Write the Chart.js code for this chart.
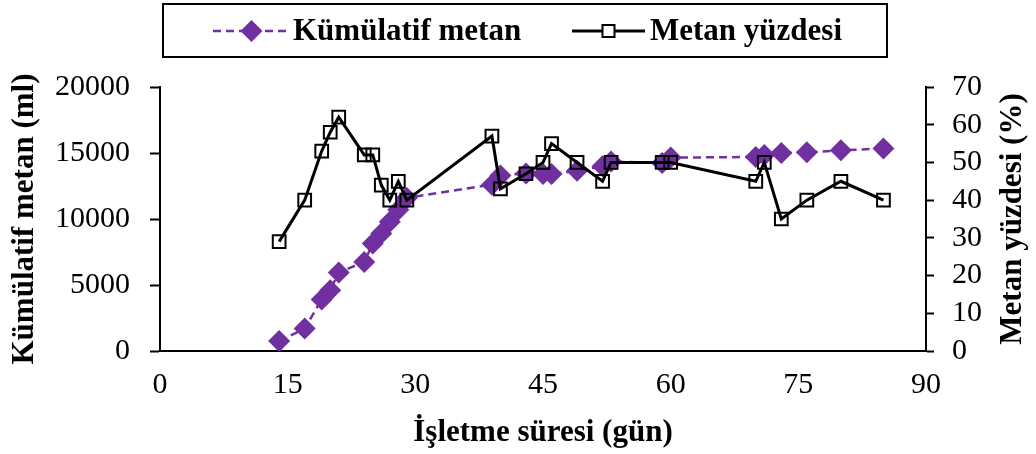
<!DOCTYPE html>
<html>
<head>
<meta charset="utf-8">
<script src="https://cdn.jsdelivr.net/npm/chart.js@4.4.0/dist/chart.umd.min.js"></script>
<style>
html,body{margin:0;padding:0;background:#fff;}
#wrap{width:1036px;height:454px;position:relative;}
</style>
</head>
<body>
<div id="wrap"><canvas id="c" width="1036" height="454"></canvas></div>
<script>
// ---- data ----
const days = [14,17,19,20,21,24,25,26,27,28,29,39,40,43,45,46,49,52,53,59,60,70,71,73,76,80,85];
const cumulativeMethane = [750,1700,3900,4600,5950,6750,8150,8900,9800,10700,11600,12600,13300,13450,13400,13400,13650,14000,14350,14250,14650,14700,14850,15000,15050,15200,15350];
const methanePercent = [29,40,53,58,62,52,52,44,40,45,40,57,43,47,50,55,50,45,50,50,50,45,50,35,40,45,40];
const seriesNames = ['Kümülatif metan', 'Metan yüzdesi'];
const xTitle = 'İşletme süresi (gün)';
const yLeftTitle = 'Kümülatif metan (ml)';
const yRightTitle = 'Metan yüzdesi (%)';

const FONT = '"Liberation Serif", "Times New Roman", serif';
const PURPLE = '#7030A0';
const TICK_SIZE = 30;
const TITLE_SIZE = 31;

const legendPlugin = {
  id: 'boxLegend',
  afterDraw(chart) {
    const ctx = chart.ctx;
    const ds = chart.data.datasets;
    ctx.save();
    // right axis title, reading bottom-to-top
    const ra = chart.scales.y1;
    ctx.save();
    ctx.translate(1013, (ra.top + ra.bottom) / 2);
    ctx.rotate(-Math.PI / 2);
    ctx.fillStyle = '#000';
    ctx.font = 'bold ' + TITLE_SIZE + 'px ' + FONT;
    ctx.textAlign = 'center';
    ctx.textBaseline = 'middle';
    ctx.fillText(yRightTitle, 0, 0);
    ctx.restore();

    ctx.strokeStyle = '#000';
    ctx.lineWidth = 2;
    ctx.strokeRect(163, 4, 724, 53);
    const y = 31;
    const items = [
      {x0: 213, x1: 290, tx: 293},
      {x0: 572, x1: 645, tx: 650}
    ];
    items.forEach((it, i) => {
      const d = ds[i];
      ctx.save();
      ctx.strokeStyle = d.borderColor;
      ctx.lineWidth = d.borderWidth;
      ctx.setLineDash(d.borderDash || []);
      ctx.beginPath();
      ctx.moveTo(it.x0, y); ctx.lineTo(it.x1, y);
      ctx.stroke();
      ctx.restore();
      const cx = (it.x0 + it.x1) / 2;
      ctx.save();
      ctx.fillStyle = d.pointStyle === 'rectRot' ? d.pointBackgroundColor : '#fff';
      ctx.strokeStyle = d.pointBorderColor;
      ctx.lineWidth = d.pointBorderWidth;
      if (d.pointStyle === 'rectRot') {
        const r = 11;
        ctx.beginPath();
        ctx.moveTo(cx, y - r); ctx.lineTo(cx + r, y); ctx.lineTo(cx, y + r); ctx.lineTo(cx - r, y); ctx.closePath();
        ctx.fill();
      } else {
        const s = 12;
        ctx.fillRect(cx - s/2, y - s/2, s, s);
        ctx.strokeRect(cx - s/2, y - s/2, s, s);
      }
      ctx.restore();
      ctx.fillStyle = '#000';
      ctx.font = 'bold ' + TITLE_SIZE + 'px ' + FONT;
      ctx.textBaseline = 'middle';
      ctx.textAlign = 'left';
      ctx.fillText(d.label, it.tx, y + 1);
    });
    ctx.restore();
  }
};

new Chart(document.getElementById('c'), {
  type: 'line',
  data: {
    datasets: [
      {
        label: seriesNames[0],
        data: days.map((d, i) => ({x: d, y: cumulativeMethane[i]})),
        yAxisID: 'y',
        borderColor: PURPLE,
        backgroundColor: PURPLE,
        borderWidth: 2.5,
        borderDash: [8, 5],
        pointStyle: 'rectRot',
        pointRadius: 11,
        pointBackgroundColor: PURPLE,
        pointBorderColor: PURPLE,
        pointBorderWidth: 0,
        tension: 0,
        order: 2
      },
      {
        label: seriesNames[1],
        data: days.map((d, i) => ({x: d, y: methanePercent[i]})),
        yAxisID: 'y1',
        borderColor: '#000',
        backgroundColor: '#fff',
        borderWidth: 3,
        pointStyle: 'rect',
        pointRadius: 9,
        pointBackgroundColor: 'rgba(255,255,255,0)',
        pointBorderColor: '#000',
        pointBorderWidth: 2,
        tension: 0,
        order: 1
      }
    ]
  },
  options: {
    responsive: false,
    animation: false,
    devicePixelRatio: 1,
    layout: {padding: {top: 87, left: 0, right: 0, bottom: 0}},
    plugins: {legend: {display: false}, tooltip: {enabled: false}},
    scales: {
      x: {
        type: 'linear',
        min: 0, max: 90,
        ticks: {stepSize: 15, autoSkip: false, maxRotation: 0, color: '#000', font: {family: FONT, size: TICK_SIZE}, padding: 16, callback: v => String(v)},
        grid: {display: true, drawOnChartArea: false, drawTicks: false},
        border: {color: '#000', width: 2},
        title: {display: true, text: xTitle, color: '#000', font: {family: FONT, size: TITLE_SIZE, weight: 'bold'}, padding: {top: 2, bottom: 2}},
        afterFit: s => { s.height = 103; }
      },
      y: {
        position: 'left',
        min: 0, max: 20000,
        ticks: {stepSize: 5000, autoSkip: false, color: '#000', font: {family: FONT, size: TICK_SIZE}, padding: 20, callback: v => String(v)},
        grid: {drawOnChartArea: false, drawTicks: true, tickLength: 10, color: '#000', tickWidth: 2},
        border: {color: '#000', width: 2},
        title: {display: true, text: yLeftTitle, color: '#000', font: {family: FONT, size: TITLE_SIZE, weight: 'bold'}, padding: {top: 6, bottom: 2}},
        afterFit: s => { s.width = 160; }
      },
      y1: {
        position: 'right',
        min: 0, max: 70,
        ticks: {stepSize: 10, autoSkip: false, color: '#000', font: {family: FONT, size: TICK_SIZE}, padding: 18, callback: v => String(v)},
        grid: {drawOnChartArea: false, drawTicks: true, tickLength: 8, color: '#000', tickWidth: 2},
        border: {color: '#000', width: 2},
        title: {display: false},
        afterFit: s => { s.width = 110; }
      }
    }
  },
  plugins: [legendPlugin]
});
</script>
</body>
</html>
